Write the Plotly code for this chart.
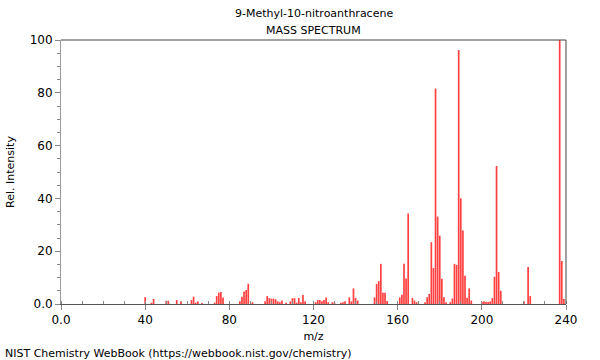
import plotly.graph_objects as go

# m/z values and relative intensities
mz = [40, 43, 44, 50, 51, 55, 57, 62, 63, 64, 65, 67,
      73, 74, 75, 76, 77, 85, 86, 87, 88, 89, 91,
      97, 98, 99, 100, 101, 102, 103, 104, 105, 107, 109, 110, 111, 112, 113,
      114, 115, 116, 121, 122, 123, 124, 125, 126, 127, 129, 130,
      133, 134, 135, 137, 138, 139, 140, 141,
      149, 150, 151, 152, 153, 154, 155,
      161, 162, 163, 164, 165, 167, 168, 169,
      173, 174, 175, 176, 177, 178, 179, 180, 181, 182, 183,
      185, 186, 187, 188, 189, 190, 191, 192, 193, 194, 195,
      200, 201, 202, 203, 204, 205, 206, 207, 208, 209,
      220, 222, 223, 237, 238, 239]
intensity = [2.6, 0.5, 1.9, 1.2, 1.2, 1.5, 1.0, 1.5, 2.8, 0.5, 1.0, 0.4,
             0.5, 3.0, 4.3, 4.5, 2.5, 1.0, 2.7, 4.7, 5.3, 7.7, 0.7,
             1.0, 3.0, 2.2, 2.0, 2.0, 1.8, 1.0, 0.7, 1.3, 0.5, 1.0, 2.2, 2.2, 0.5, 2.3,
             0.7, 3.4, 1.0, 0.7, 1.5, 1.5, 1.0, 1.5, 2.5, 0.7, 0.7, 0.5,
             0.5, 0.7, 1.0, 2.5, 1.0, 5.9, 2.3, 1.3,
             2.5, 7.6, 8.7, 15.2, 4.3, 4.3, 1.1,
             2.5, 3.5, 15.2, 9.7, 34.3, 2.3, 1.3, 0.7,
             0.7, 2.6, 3.8, 23.4, 13.6, 81.6, 33.1, 25.9, 9.6, 2.6, 0.7,
             0.7, 2.1, 15.2, 14.8, 96.2, 40.0, 27.8, 10.7, 2.4, 5.9, 1.3,
             0.8, 1.0, 0.8, 0.8, 1.0, 2.2, 10.3, 52.3, 12.1, 5.0,
             1.0, 14.0, 3.0, 100.0, 16.3, 1.9]

x_tickvals = [0, 40, 80, 120, 160, 200, 240]
x_ticktext = ["0.0", "40", "80", "120", "160", "200", "240"]
y_tickvals = [0, 20, 40, 60, 80, 100]
y_ticktext = ["0.0", "20", "40", "60", "80", "100"]

# stick segments (each peak drawn from 0 up to its intensity)
seg_x, seg_y = [], []
for m, v in zip(mz, intensity):
    seg_x += [m, m, None]
    seg_y += [0, v, None]

fig = go.Figure()
fig.add_trace(go.Scatter(x=seg_x, y=seg_y, mode="lines",
                         line=dict(color="#ff4040", width=1.7), hoverinfo="skip"))

font = "DejaVu Sans, Verdana, sans-serif"
fig.update_layout(
    width=600, height=360,
    margin=dict(l=61, r=34, t=40, b=56),
    paper_bgcolor="white", plot_bgcolor="white",
    showlegend=False, hovermode=False,
    font=dict(family=font, size=12, color="black"),
)
fig.update_xaxes(range=[0, 240], tickvals=x_tickvals, ticktext=x_ticktext,
                 ticks="outside", ticklen=5, tickcolor="#888",
                 minor=dict(dtick=10, ticks="inside", ticklen=3, tickcolor="#888"),
                 showgrid=False, zeroline=False, automargin=False, showspikes=False,
                 showline=True, linecolor="#555", linewidth=1,
                 title=dict(text="m/z", font=dict(size=11), standoff=5))
fig.update_yaxes(range=[0, 100], tickvals=y_tickvals, ticktext=y_ticktext,
                 ticks="outside", ticklen=5, tickcolor="#888",
                 minor=dict(dtick=5, ticks="outside", ticklen=3, tickcolor="#888"),
                 showgrid=False, zeroline=False, automargin=False, showspikes=False,
                 showline=True, linecolor="#999", linewidth=1,
                 title=dict(text="Rel. Intensity", font=dict(size=11), standoff=12))

# frame top and right
fig.add_shape(type="line", xref="paper", yref="paper", x0=0, x1=1, y0=1, y1=1,
              line=dict(color="#444", width=1))
fig.add_shape(type="line", xref="paper", yref="paper", x0=1, x1=1, y0=0, y1=1,
              line=dict(color="#444", width=1))

fig.add_annotation(text="9-Methyl-10-nitroanthracene", xref="paper", yref="paper",
                   x=0.5, y=1, yshift=27, showarrow=False, yanchor="middle",
                   font=dict(size=11))
fig.add_annotation(text="MASS SPECTRUM", xref="paper", yref="paper",
                   x=0.5, y=1, yshift=10, showarrow=False, yanchor="middle",
                   font=dict(size=11))
fig.add_annotation(text="NIST Chemistry WebBook (https://webbook.nist.gov/chemistry)",
                   xref="paper", yref="paper", x=0, y=0, xshift=-58, yshift=-49,
                   xanchor="left", yanchor="middle", showarrow=False,
                   font=dict(size=11))

fig.write_html("out.html", config={"displayModeBar": False, "staticPlot": True},
               post_script="document.body.style.margin='0';")
